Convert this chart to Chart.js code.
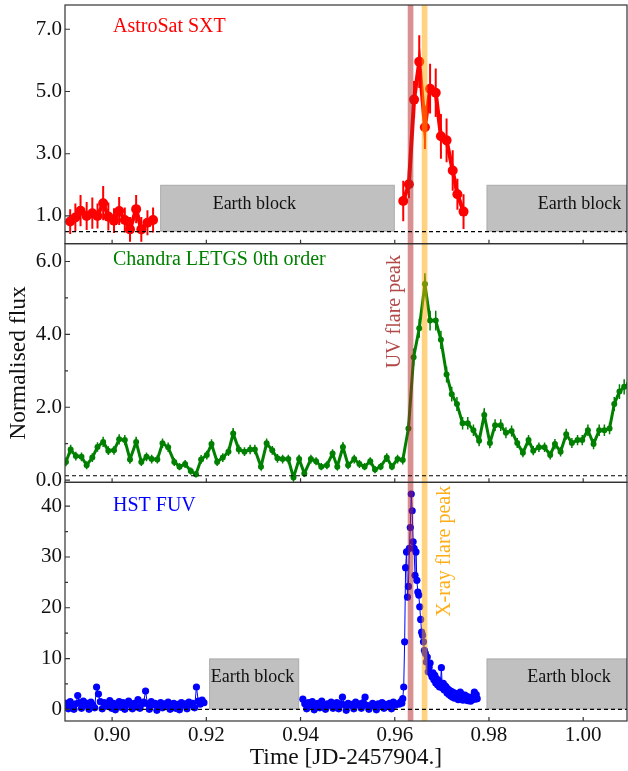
<!DOCTYPE html>
<html>
<head>
<meta charset="utf-8">
<script src="https://cdn.jsdelivr.net/npm/chart.js@4.4.1/dist/chart.umd.min.js"></script>
<style>
  html, body { margin: 0; padding: 0; background: #fff; }
</style>
</head>
<body>
<canvas id="lc" width="628" height="771"></canvas>
<script>
// AstroSat SXT, before and after the Earth block
const sxtTimeA = [0.8911, 0.8922, 0.8933, 0.8946, 0.8958, 0.8969, 0.8981, 0.8992, 0.9004, 0.9015, 0.9027, 0.9038, 0.9051, 0.9062, 0.9075, 0.9087];
const sxtFluxA = [0.82, 0.95, 1.17, 1.00, 1.09, 1.00, 1.41, 0.98, 0.85, 1.16, 0.87, 0.57, 1.22, 0.57, 0.78, 0.87];
const sxtErrA  = [0.40, 0.45, 0.50, 0.45, 0.50, 0.40, 0.55, 0.45, 0.40, 0.45, 0.40, 0.40, 0.45, 0.40, 0.40, 0.40];
const sxtTimeB = [0.9618, 0.9630, 0.9641, 0.9652, 0.9664, 0.9675, 0.9687, 0.9698, 0.9710, 0.9723, 0.9733, 0.9746];
const sxtFluxB = [1.48, 2.02, 4.74, 5.96, 3.85, 5.09, 4.96, 3.56, 3.43, 2.46, 1.70, 1.14];
const sxtErrB  = [0.65, 0.45, 0.60, 0.85, 0.70, 0.80, 0.78, 0.72, 0.70, 0.65, 0.50, 0.56];

// Chandra LETGS 0th order
const chandraTime = [0.8902, 0.8912, 0.8923, 0.8935, 0.8946, 0.8958, 0.8969, 0.8981, 0.8992, 0.9004,
  0.9015, 0.9027, 0.9038, 0.9051, 0.9062, 0.9073, 0.9084, 0.9096, 0.9107, 0.9119,
  0.9132, 0.9143, 0.9155, 0.9167, 0.9178, 0.9189, 0.9201, 0.9211, 0.9223, 0.9235,
  0.9247, 0.9257, 0.9269, 0.9281, 0.9293, 0.9303, 0.9316, 0.9328, 0.9340, 0.9351,
  0.9362, 0.9374, 0.9385, 0.9397, 0.9408, 0.9422, 0.9433, 0.9444, 0.9456, 0.9468,
  0.9478, 0.9490, 0.9501, 0.9514, 0.9525, 0.9536, 0.9548, 0.9558, 0.9570, 0.9583,
  0.9594, 0.9606, 0.9617, 0.9629, 0.9640, 0.9652, 0.9664, 0.9675, 0.9687, 0.9698,
  0.9710, 0.9721, 0.9732, 0.9744, 0.9755, 0.9767, 0.9779, 0.9790, 0.9802, 0.9813,
  0.9825, 0.9836, 0.9848, 0.9860, 0.9872, 0.9884, 0.9894, 0.9906, 0.9918, 0.9930,
  0.9940, 0.9952, 0.9964, 0.9976, 0.9988, 0.9998, 1.0010, 1.0022, 1.0034, 1.0045,
  1.0056, 1.0066, 1.0077, 1.0087, 1.0097];
const chandraFlux = [0.50, 0.84, 0.66, 0.64, 0.41, 0.62, 0.91, 1.05, 0.81, 0.82,
  1.12, 1.10, 0.57, 1.05, 0.50, 0.64, 0.58, 0.57, 1.01, 0.90,
  0.50, 0.37, 0.44, 0.25, 0.16, 0.57, 0.69, 0.99, 0.50, 0.62,
  0.78, 1.28, 0.84, 0.78, 0.84, 0.84, 0.37, 1.01, 0.82, 0.60,
  0.58, 0.58, 0.07, 0.58, 0.18, 0.58, 0.52, 0.37, 0.41, 0.73,
  0.37, 0.91, 0.41, 0.58, 0.44, 0.37, 0.52, 0.29, 0.37, 0.62,
  0.37, 0.58, 0.55, 1.42, 3.37, 4.17, 5.38, 4.38, 4.38, 3.85,
  2.90, 2.36, 2.09, 1.56, 1.56, 1.37, 1.08, 1.79, 1.02, 1.51,
  1.51, 1.30, 1.35, 1.02, 0.75, 1.10, 0.81, 0.90, 0.90, 0.69,
  0.99, 0.78, 1.26, 1.02, 1.10, 1.10, 1.37, 0.99, 1.37, 1.37,
  1.42, 2.09, 2.43, 2.56, 2.64];
const chandraErr = [0.12, 0.13, 0.12, 0.12, 0.11, 0.12, 0.13, 0.14, 0.12, 0.12,
  0.14, 0.14, 0.11, 0.14, 0.11, 0.12, 0.12, 0.11, 0.13, 0.13,
  0.11, 0.10, 0.11, 0.10, 0.09, 0.12, 0.12, 0.13, 0.11, 0.12,
  0.12, 0.15, 0.13, 0.12, 0.13, 0.13, 0.10, 0.13, 0.12, 0.12,
  0.12, 0.12, 0.08, 0.12, 0.09, 0.12, 0.11, 0.10, 0.11, 0.12,
  0.10, 0.13, 0.11, 0.12, 0.11, 0.10, 0.11, 0.10, 0.10, 0.12,
  0.10, 0.12, 0.12, 0.17, 0.24, 0.26, 0.30, 0.27, 0.27, 0.25,
  0.22, 0.20, 0.19, 0.17, 0.17, 0.16, 0.15, 0.18, 0.14, 0.16,
  0.16, 0.15, 0.15, 0.14, 0.12, 0.14, 0.13, 0.13, 0.13, 0.12,
  0.14, 0.13, 0.15, 0.14, 0.14, 0.14, 0.16, 0.14, 0.16, 0.16,
  0.16, 0.19, 0.20, 0.21, 0.21];

// HST FUV, three stretches of regular time bins (start, bin width, fluxes)
const hstStartA = 0.8903, hstBinA = 0.0004;
const hstFluxA = [1.2, 0.1, 1.5, 0.9, 0.0, 1.1, 2.7, 1.3, 0.2, 1.6,
  0.8, 1.2, 0.0, 1.4, 0.9, 0.3, 4.4, 3.0, 1.5, 0.1,
  1.3, 0.6, 1.1, 1.7, 0.2, 1.2, -0.1, 1.0, 1.5, 0.4,
  1.3, 0.0, 0.9, 1.6, 1.1, 0.1, 1.2, 0.5, 1.9, 0.2,
  1.0, 1.4, 3.6, 1.1, 0.0, 1.5, 0.9, 1.2, -0.2, 1.0,
  1.3, 0.3, 1.1, 0.8, 1.4, 0.0, 0.9, 1.2, 0.2, 1.0,
  -0.1, 1.3, 0.8, 1.1, 0.1, 1.4, 0.9, 1.2, 0.3, 4.4,
  1.6, 1.0, 1.8, 1.3];
const hstStartB = 0.9405, hstBinB = 0.0004;
const hstFluxB = [2.0, 1.1, 0.1, 1.3, 0.8, 1.5, -0.1, 1.0, 1.2, 0.3,
  1.6, 0.9, 0.0, 1.1, 0.8, 1.4, 0.2, 1.0, 1.3, 0.1,
  1.1, 2.4, 0.9, -0.2, 1.2, 0.8, 1.0, 0.1, 1.4, 0.9,
  1.1, 0.2, 1.3, 2.4, 0.8, 0.0, 0.6, 1.2, 0.9, -0.1,
  1.1, 0.8, 1.3, 0.2, 1.0, 0.6, 1.2, 0.1, 1.4, 0.8,
  1.1, 1.0, 1.5];
const hstStartC = 0.9615, hstBinC = 0.0002;
const hstFluxC = [1.2, 2.1, 4.4, 13.3, 27.9, 31.0, 22.1, 24.2, 31.7, 35.8,
  42.4, 39.1, 33.0, 31.7, 26.4, 31.0, 25.4, 23.1, 22.5, 20.2,
  17.7, 15.2, 14.6, 13.3, 11.6, 11.0, 9.3, 10.3, 7.4, 8.3,
  9.1, 7.0, 6.4, 7.2, 5.8, 6.7, 5.2, 6.0, 4.8, 5.7,
  4.4, 5.0, 8.2, 4.2, 5.1, 3.8, 4.6, 4.4, 3.2, 4.0,
  2.9, 3.7, 2.6, 3.5, 2.4, 3.3, 2.2, 3.1, 2.5, 3.0,
  1.9, 2.8, 3.4, 2.2, 2.9, 1.8, 2.6, 2.8, 2.0, 2.5,
  1.7, 2.4, 2.1, 1.6, 2.3, 1.9, 2.6, 3.4, 2.0, 2.9,
  2.1];

// Earth occultation intervals and flare peak times
const sxtEarth = [[0.9102, 0.9600], [0.9795, 1.02]];
const hstEarth = [[0.9206, 0.9397], [0.9795, 1.02]];
const uvPeak = 0.96335;
const xrayPeak = 0.96633;

const xTicks = [0.90, 0.92, 0.94, 0.96, 0.98, 1.00];
const sxtTicks = [1, 3, 5, 7];
const chandraTicks = [0, 2, 4, 6];
const hstTicks = [0, 10, 20, 30, 40];

const FONT = '"Liberation Serif", "Times New Roman", serif';
const RED = '#ff0000', GREEN = '#008000', BLUE = '#0000ff';

const pts = (t, f) => t.map((x, i) => ({x: x, y: f[i]}));
const bins = (t0, dt, f) => f.map((y, i) => ({x: t0 + i * dt, y: y}));

function errBars(ctx, xs, ys, t, f, e, color, width) {
  ctx.strokeStyle = color;
  ctx.lineWidth = width;
  ctx.beginPath();
  t.forEach((v, i) => {
    const px = xs.getPixelForValue(v);
    const top = Math.max(ys.getPixelForValue(f[i] + e[i]), ys.top);
    const bot = Math.min(ys.getPixelForValue(f[i] - e[i]), ys.bottom);
    ctx.moveTo(px, top);
    ctx.lineTo(px, bot);
  });
  ctx.stroke();
}

// no extra room for overhanging tick labels
function noPad(s) {
  s.paddingTop = 0;
  s.paddingBottom = 0;
  s.paddingLeft = 0;
  s.paddingRight = 0;
}

const lightCurvePlugin = {
  id: 'lightCurve',
  beforeDatasetsDraw(chart) {
    const {ctx, chartArea: a} = chart;
    const x = chart.scales.x, ySXT = chart.scales.ySXT, yHST = chart.scales.yHST, yCha = chart.scales.yCha;
    ctx.save();
    const block = (ys, t0, t1, lo, hi) => {
      const x0 = x.getPixelForValue(t0), x1 = Math.min(x.getPixelForValue(t1), a.right);
      const y0 = ys.getPixelForValue(hi), y1 = ys.getPixelForValue(lo);
      ctx.fillStyle = '#c0c0c0';
      ctx.fillRect(x0, y0, x1 - x0, y1 - y0);
      ctx.strokeStyle = '#b0b0b0';
      ctx.lineWidth = 1;
      ctx.strokeRect(x0 + 0.5, y0 + 0.5, x1 - x0 - 1, y1 - y0 - 1);
    };
    sxtEarth.forEach(b => block(ySXT, b[0], b[1], 0.5, 2.0));
    hstEarth.forEach(b => block(yHST, b[0], b[1], 0, 10));

    ctx.fillStyle = '#111';
    ctx.font = '18px ' + FONT;
    ctx.textAlign = 'center';
    ctx.textBaseline = 'middle';
    ctx.fillText('Earth block', x.getPixelForValue(0.9302), ySXT.getPixelForValue(1.39));
    ctx.fillText('Earth block', x.getPixelForValue(0.9992), ySXT.getPixelForValue(1.39));
    ctx.fillText('Earth block', x.getPixelForValue(0.9298), yHST.getPixelForValue(6.3));
    ctx.fillText('Earth block', x.getPixelForValue(0.9970), yHST.getPixelForValue(6.3));

    errBars(ctx, x, ySXT, sxtTimeA, sxtFluxA, sxtErrA, RED, 2);
    errBars(ctx, x, ySXT, sxtTimeB, sxtFluxB, sxtErrB, RED, 2);
    errBars(ctx, x, yCha, chandraTime, chandraFlux, chandraErr, GREEN, 1.5);
    ctx.restore();
  },
  afterDatasetsDraw(chart) {
    const {ctx, chartArea: a} = chart;
    const x = chart.scales.x;
    const panels = [chart.scales.ySXT, chart.scales.yCha, chart.scales.yHST];
    ctx.save();

    // flare peak bands
    const band = (t, color) => {
      const x0 = x.getPixelForValue(t - 0.0006), x1 = x.getPixelForValue(t + 0.0006);
      ctx.fillStyle = color;
      ctx.fillRect(x0, a.top, x1 - x0, a.bottom - a.top);
    };
    band(uvPeak, 'rgba(178,34,34,0.5)');
    band(xrayPeak, 'rgba(255,165,0,0.5)');

    // background levels
    ctx.strokeStyle = '#000';
    ctx.lineWidth = 1.2;
    ctx.setLineDash([4, 3]);
    [0.5, 0.12, 0].forEach((lvl, i) => {
      const py = panels[i].getPixelForValue(lvl);
      ctx.beginPath();
      ctx.moveTo(a.left, py);
      ctx.lineTo(a.right, py);
      ctx.stroke();
    });
    ctx.setLineDash([]);

    // panel titles
    ctx.font = '20px ' + FONT;
    ctx.textAlign = 'left';
    ctx.textBaseline = 'middle';
    ctx.fillStyle = RED;
    ctx.fillText('AstroSat SXT', a.left + 48, panels[0].top + 22);
    ctx.fillStyle = GREEN;
    ctx.fillText('Chandra LETGS 0th order', a.left + 48, panels[1].top + 16);
    ctx.fillStyle = BLUE;
    ctx.fillText('HST FUV', a.left + 48, panels[2].top + 23);

    // rotated peak labels
    const vtext = (txt, px, py, color) => {
      ctx.save();
      ctx.translate(px, py);
      ctx.rotate(-Math.PI / 2);
      ctx.fillStyle = color;
      ctx.textAlign = 'center';
      ctx.fillText(txt, 0, 0);
      ctx.restore();
    };
    vtext('UV flare peak', x.getPixelForValue(uvPeak) - 15.5,
      panels[1].top + 0.285 * (panels[1].bottom - panels[1].top), 'rgba(165,40,40,0.85)');
    vtext('X-ray flare peak', x.getPixelForValue(xrayPeak) + 20.5,
      panels[2].top + 0.289 * (panels[2].bottom - panels[2].top), 'rgba(255,165,0,0.9)');

    // frames and inward ticks
    ctx.strokeStyle = '#333';
    ctx.lineWidth = 1.2;
    const minor = [[], [1, 3, 5], [5, 15, 25, 35]];
    panels.forEach((ys, i) => {
      ctx.strokeRect(a.left, ys.top, a.right - a.left, ys.bottom - ys.top);
      ctx.beginPath();
      xTicks.forEach(v => {
        const px = x.getPixelForValue(v);
        ctx.moveTo(px, ys.bottom);
        ctx.lineTo(px, ys.bottom - 4);
      });
      ys.ticks.forEach(t => {
        const py = ys.getPixelForValue(t.value);
        ctx.moveTo(a.left, py);
        ctx.lineTo(a.left + 5, py);
      });
      minor[i].forEach(v => {
        const py = ys.getPixelForValue(v);
        ctx.moveTo(a.left, py);
        ctx.lineTo(a.left + 3, py);
      });
      ctx.stroke();
    });
    ctx.restore();
  }
};

const tickFont = {family: FONT, size: 21};
const yAxis = (min, max, list, digits, title) => ({
  type: 'linear',
  position: 'left',
  stack: 'flux',
  stackWeight: 1,
  min: min,
  max: max,
  grid: {display: false, drawTicks: false},
  border: {display: false},
  afterBuildTicks: s => { s.ticks = list.map(v => ({value: v})); },
  afterFit: s => { s.width = 65; noPad(s); },
  ticks: {padding: 3, color: '#111', font: tickFont, autoSkip: false,
    callback: v => v.toFixed(digits)},
  title: title ? {display: true, text: title, color: '#111',
    font: {family: FONT, size: 23.5}, padding: {top: 5, bottom: 0}} : {display: false}
});

new Chart(document.getElementById('lc'), {
  type: 'scatter',
  data: {
    datasets: [
      {label: 'AstroSat SXT', data: pts(sxtTimeA, sxtFluxA), yAxisID: 'ySXT', showLine: true,
        borderColor: RED, backgroundColor: RED, borderWidth: 4, pointRadius: 5, pointBorderWidth: 0},
      {label: 'AstroSat SXT', data: pts(sxtTimeB, sxtFluxB), yAxisID: 'ySXT', showLine: true,
        borderColor: RED, backgroundColor: RED, borderWidth: 4, pointRadius: 5, pointBorderWidth: 0},
      {label: 'Chandra LETGS 0th order', data: pts(chandraTime, chandraFlux), yAxisID: 'yCha', showLine: true,
        borderColor: GREEN, backgroundColor: GREEN, borderWidth: 3, pointRadius: 3, pointBorderWidth: 0},
      {label: 'HST FUV', data: bins(hstStartA, hstBinA, hstFluxA), yAxisID: 'yHST', showLine: true,
        borderColor: BLUE, backgroundColor: BLUE, borderWidth: 1, pointRadius: 3.6, pointBorderWidth: 0},
      {label: 'HST FUV', data: bins(hstStartB, hstBinB, hstFluxB).concat(bins(hstStartC, hstBinC, hstFluxC)),
        yAxisID: 'yHST', showLine: true,
        borderColor: BLUE, backgroundColor: BLUE, borderWidth: 1, pointRadius: 3.6, pointBorderWidth: 0}
    ]
  },
  options: {
    responsive: false,
    animation: false,
    events: [],
    devicePixelRatio: 1,
    layout: {autoPadding: false, padding: {top: 5, right: 1, left: 0, bottom: 0}},
    plugins: {legend: {display: false}, tooltip: {enabled: false}},
    scales: {
      x: {
        type: 'linear',
        min: 0.89,
        max: 1.0093,
        grid: {display: false, drawTicks: false},
        border: {display: false},
        afterBuildTicks: s => { s.ticks = xTicks.map(v => ({value: v})); },
        afterFit: s => { s.height = 50; noPad(s); },
        ticks: {padding: 2, color: '#111', font: tickFont, autoSkip: false, maxRotation: 0,
          callback: v => v.toFixed(2)},
        title: {display: true, text: 'Time [JD-2457904.]', color: '#111',
          font: {family: FONT, size: 23.5}, padding: {top: 0, bottom: -1}}
      },
      yHST: yAxis(-2.3, 44.7, hstTicks, 0, null),
      yCha: yAxis(-0.06, 6.49, chandraTicks, 1, 'Normalised flux'),
      ySXT: yAxis(0.11, 7.78, sxtTicks, 1, null)
    }
  },
  plugins: [lightCurvePlugin]
});
</script>
</body>
</html>
